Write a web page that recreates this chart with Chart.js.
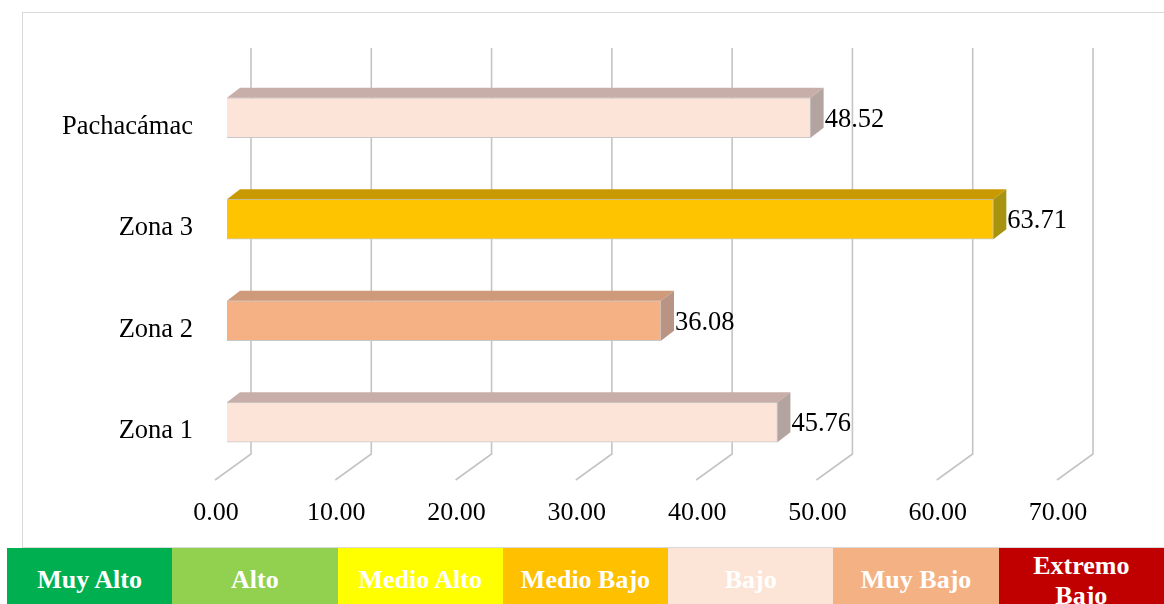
<!DOCTYPE html>
<html>
<head>
<meta charset="utf-8">
<script src="https://cdn.jsdelivr.net/npm/chart.js@4"></script>
<style>
  body { margin: 0; width: 1164px; height: 604px; background: #fff; overflow: hidden; position: relative; font-family: "Liberation Serif", serif; }
  #box { position: absolute; left: 22px; top: 12px; width: 1160px; height: 534px; border: 1px solid #d9d9d9; background: #fff; }
  #wrap { position: absolute; left: 0; top: 0; width: 1164px; height: 548px; }
  #legend { position: absolute; left: 7px; top: 548px; width: 1157px; height: 56px; display: flex; }
  #legend div { flex: 1; display: flex; align-items: center; justify-content: center; color: #fff; font-weight: bold; font-size: 26px; text-align: center; line-height: 30px; overflow: hidden; padding-top: 8px; box-sizing: border-box; white-space: nowrap; }
  #legend div.wrapcell { align-items: flex-start; padding-top: 3px; white-space: normal; }
  #legend div.wrapcell span { max-width: 110px; }
</style>
</head>
<body>
<div id="box"></div>
<div id="wrap"><canvas id="barChart"></canvas></div>
<div id="legend"></div>
<script>
const categories = ['Pachacámac', 'Zona 3', 'Zona 2', 'Zona 1'];
const values = [48.52, 63.71, 36.08, 45.76];
const frontColors = ['#fde4d9', '#ffc400', '#f5b084', '#fde4d9'];
const topColors = ['#c7aea8', '#c99a00', '#cf9a7a', '#c7aea8'];
const sideColors = ['#b4a4a0', '#a89310', '#b99484', '#b4a4a0'];
const tickValues = [0, 10, 20, 30, 40, 50, 60, 70];
const legendLabels = ['Muy Alto', 'Alto', 'Medio Alto', 'Medio Bajo', 'Bajo', 'Muy Bajo', 'Extremo Bajo'];
const legendColors = ['#00b050', '#92d050', '#ffff00', '#ffc000', '#fce4d6', '#f4b183', '#c00000'];

const legendEl = document.getElementById('legend');
legendLabels.forEach((t, i) => {
    const d = document.createElement('div');
    d.style.background = legendColors[i];
    const s = document.createElement('span');
    s.textContent = t;
    d.appendChild(s);
    if (t === 'Extremo Bajo') d.className = 'wrapcell';
    legendEl.appendChild(d);
});

const DX = 13, DY = 10;

// 3D floor + back grid lines
const grid3d = {
    id: 'grid3d',
    beforeDatasetsDraw(chart) {
        const ctx = chart.ctx;
        const xs = chart.scales.x;
        ctx.save();
        ctx.strokeStyle = '#c4c4c4';
        ctx.lineWidth = 1.6;
        tickValues.forEach(v => {
            const p = xs.getPixelForValue(v);
            const bx = p + 24, fx = p - 12;
            ctx.beginPath();
            ctx.moveTo(bx, 48);
            ctx.lineTo(bx, 454);
            ctx.lineTo(fx, 480);
            ctx.stroke();
        });
        ctx.restore();
    }
};

// top / side faces and value labels
const bar3d = {
    id: 'bar3d',
    afterDatasetsDraw(chart) {
        const ctx = chart.ctx;
        const meta = chart.getDatasetMeta(0);
        ctx.save();
        meta.data.forEach((bar, i) => {
            const x0 = bar.base, x1 = bar.x;
            const top = bar.y - bar.height / 2, bottom = bar.y + bar.height / 2;
            ctx.fillStyle = topColors[i];
            ctx.beginPath();
            ctx.moveTo(x0, top);
            ctx.lineTo(x0 + DX, top - DY);
            ctx.lineTo(x1 + DX, top - DY);
            ctx.lineTo(x1, top);
            ctx.closePath();
            ctx.fill();
            ctx.fillStyle = sideColors[i];
            ctx.beginPath();
            ctx.moveTo(x1, top);
            ctx.lineTo(x1 + DX, top - DY);
            ctx.lineTo(x1 + DX, bottom - DY);
            ctx.lineTo(x1, bottom);
            ctx.closePath();
            ctx.fill();
            ctx.fillStyle = '#000';
            ctx.font = '26.5px "Liberation Serif"';
            ctx.textAlign = 'left';
            ctx.textBaseline = 'middle';
            ctx.fillText(values[i].toFixed(2), x1 + DX + 1, bar.y + 2);
        });
        ctx.restore();
    }
};

const barCtx = document.getElementById('barChart');

const barChart = new Chart(barCtx, {
    type: 'bar',
    data: {
        labels: categories,
        datasets: [{
            data: values,
            backgroundColor: frontColors,
            borderColor: '#c8c8c8',
            borderWidth: 1,
            barThickness: 40
        }]
    },
    options: {
        indexAxis: 'y',
        responsive: true,
        maintainAspectRatio: false,
        animation: false,
        layout: { padding: { left: 0, right: 95, top: 67, bottom: 0 } },
        plugins: {
            legend: { display: false },
            tooltip: { enabled: false }
        },
        scales: {
            x: {
                min: 0,
                max: 70,
                grid: { display: false, drawTicks: false },
                border: { display: false },
                afterFit(scale) { scale.height = 75; },
                afterBuildTicks(scale) { scale.ticks = tickValues.map(v => ({ value: v })); },
                ticks: {
                    padding: 25,
                    labelOffset: -11,
                    color: '#000',
                    font: { family: 'Liberation Serif', size: 26 },
                    callback: v => v.toFixed(2)
                }
            },
            y: {
                grid: { display: false, drawTicks: false },
                border: { display: false },
                afterFit(scale) { scale.width = 227; },
                ticks: {
                    padding: 34,
                    labelOffset: 9,
                    color: '#000',
                    font: { family: 'Liberation Serif', size: 26.5 }
                }
            }
        }
    },
    plugins: [grid3d, bar3d]
});
</script>
</body>
</html>
